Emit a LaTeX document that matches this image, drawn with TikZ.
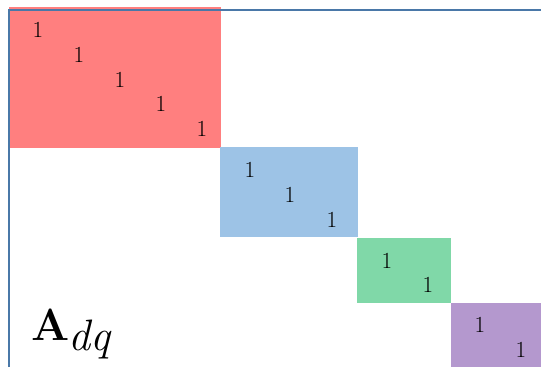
\documentclass[tikz,border=0pt]{standalone}
\usepackage{fontspec}
\definecolor{redblk}{RGB}{255,127,127}
\definecolor{blueblk}{RGB}{157,195,230}
\definecolor{greenblk}{RGB}{128,216,168}
\definecolor{purpleblk}{RGB}{180,152,206}
\definecolor{axisblue}{RGB}{74,120,168}
\begin{document}
\begin{tikzpicture}[x=1pt,y=-1pt,
  one/.style={inner sep=0pt, font=\fontsize{23}{25}\selectfont}]
\useasboundingbox (0,0) rectangle (541,367);
\fill[redblk] (9,7) rectangle (221,148);
\fill[blueblk] (220,147) rectangle (358,237);
\fill[greenblk] (357,238) rectangle (451,303);
\fill[purpleblk] (451,303) rectangle (541,367);
% ones
\node[one] (r1) at (38,30) {1};
\node[one] (r2) at (79,55) {1};
\node[one] (r3) at (120,80) {1};
\node[one] (r4) at (161,104) {1};
\node[one] (r5) at (202,129) {1};
\node[one] (b1) at (250,170) {1};
\node[one] (b2) at (290,195) {1};
\node[one] (b3) at (332,220) {1};
\node[one] (g1) at (387,261) {1};
\node[one] (g2) at (428,285) {1};
\node[one] (p1) at (480,325) {1};
\node[one] (p2) at (521,350) {1};
% label
\node[anchor=base west, inner sep=0pt, font=\fontsize{45}{48}\selectfont\bfseries] (lblA) at (31,340) {A};
\node[anchor=base west, inner sep=0pt, font=\fontsize{44}{48}\selectfont\itshape] (lblsub) at (68,350) {dq};
% axes
\coordinate (corner) at (9,10);
\coordinate (bottom) at (9,367);
\coordinate (right) at (541,10);
\draw[axisblue, line width=2pt] (bottom) -- (corner) -- (right);
\end{tikzpicture}
\end{document}
